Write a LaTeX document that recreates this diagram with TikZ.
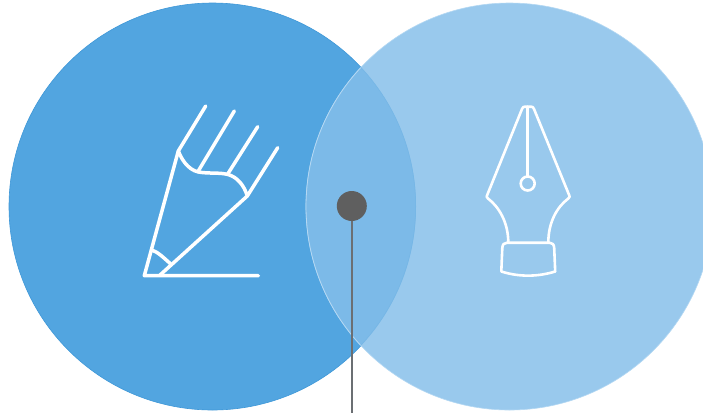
\documentclass[tikz,border=0pt]{standalone}
\definecolor{leftc}{HTML}{52A5E0}
\definecolor{leftb}{HTML}{3F98D8}
\definecolor{rightc}{HTML}{99C9ED}
\definecolor{rightb}{HTML}{B4D8F3}
\definecolor{overc}{HTML}{7CBAE8}
\definecolor{dotc}{HTML}{5F5F5F}
\definecolor{linec}{HTML}{6B6F73}
\tikzset{
  pencilline/.style={draw=white,line width=3.5pt,line cap=round,line join=round},
  nibline/.style={draw=white,line width=2.6pt,line cap=round,line join=round},
  hubdot/.style={circle,fill=dotc,inner sep=0pt,minimum size=30pt},
}
\begin{document}
\begin{tikzpicture}[x=1pt,y=-1pt]
\useasboundingbox (0,0) rectangle (703,413);
\clip (0,0) rectangle (703,413);
\fill[white] (0,0) rectangle (703,413);
% circles
\filldraw[fill=leftc,draw=leftb,line width=0.6pt] (212.5,206.5) circle[radius=203.5];
\filldraw[fill=rightc,draw=rightb,line width=0.6pt] (509.5,206.5) circle[radius=203.5];
\begin{scope}
  \clip (212.5,206.5) circle[radius=203.5];
  \filldraw[fill=overc,draw=rightb,line width=0.8pt] (509.5,206.5) circle[radius=203.5];
\end{scope}
\draw[draw=leftb!12!overc,line width=0.5pt] (360.5,67) arc[start angle=-43.2,end angle=43.2,radius=203.5];
% pencil
\draw[pencilline] (205.7,106) -- (178.3,151) -- (144.3,275.7) -- (258.3,275.7);
\draw[pencilline] (159.3,275.7) -- (247.3,196) -- (277.7,147.7);
\draw[pencilline] (234.3,111) -- (198.3,171);
\draw[pencilline] (257.7,126.7) -- (227.7,174);
\draw[pencilline] (178.3,151) .. controls (183,163) and (191,172) .. (202,172.5)
  .. controls (211,173.5) and (220,172.5) .. (228,174.5)
  .. controls (237,177) and (244,185) .. (247.3,196);
\draw[pencilline] (151.7,250) .. controls (158,252) and (164,258) .. (170.7,264);
% nib
\draw[nibline] (508.3,242) .. controls (508,222) and (499,207) .. (488,198.5)
  .. controls (486.5,197.3) and (486.5,196.5) .. (487,195.5)
  -- (522,109) .. controls (522.8,107) and (523.5,106.7) .. (525,106.7)
  -- (531,106.7) .. controls (532.5,106.7) and (533.2,107) .. (534,109)
  -- (569.3,195.5) .. controls (569.8,196.5) and (569.8,197.3) .. (568.3,198.5)
  .. controls (557,207) and (548.5,222) .. (548.3,242);
\draw[nibline] (527.7,106.7) -- (527.7,176.5);
\draw[nibline] (527.7,183.5) circle[radius=7];
\draw[nibline] (501.3,271.5) -- (502.3,248) .. controls (502.5,244.5) and (504,242.7) .. (507,242.7)
  -- (549.5,242.7) .. controls (552.5,242.7) and (554,244.5) .. (554.2,248)
  -- (555.2,271.5) .. controls (537,277) and (519,277) .. (501.3,271.5);
% marker
\node[hubdot] (hub) at (351.8,206) {};
\coordinate (tail) at (351.8,413);
\draw[linec,line width=1.5pt] (hub) -- (tail);
\end{tikzpicture}
\end{document}
